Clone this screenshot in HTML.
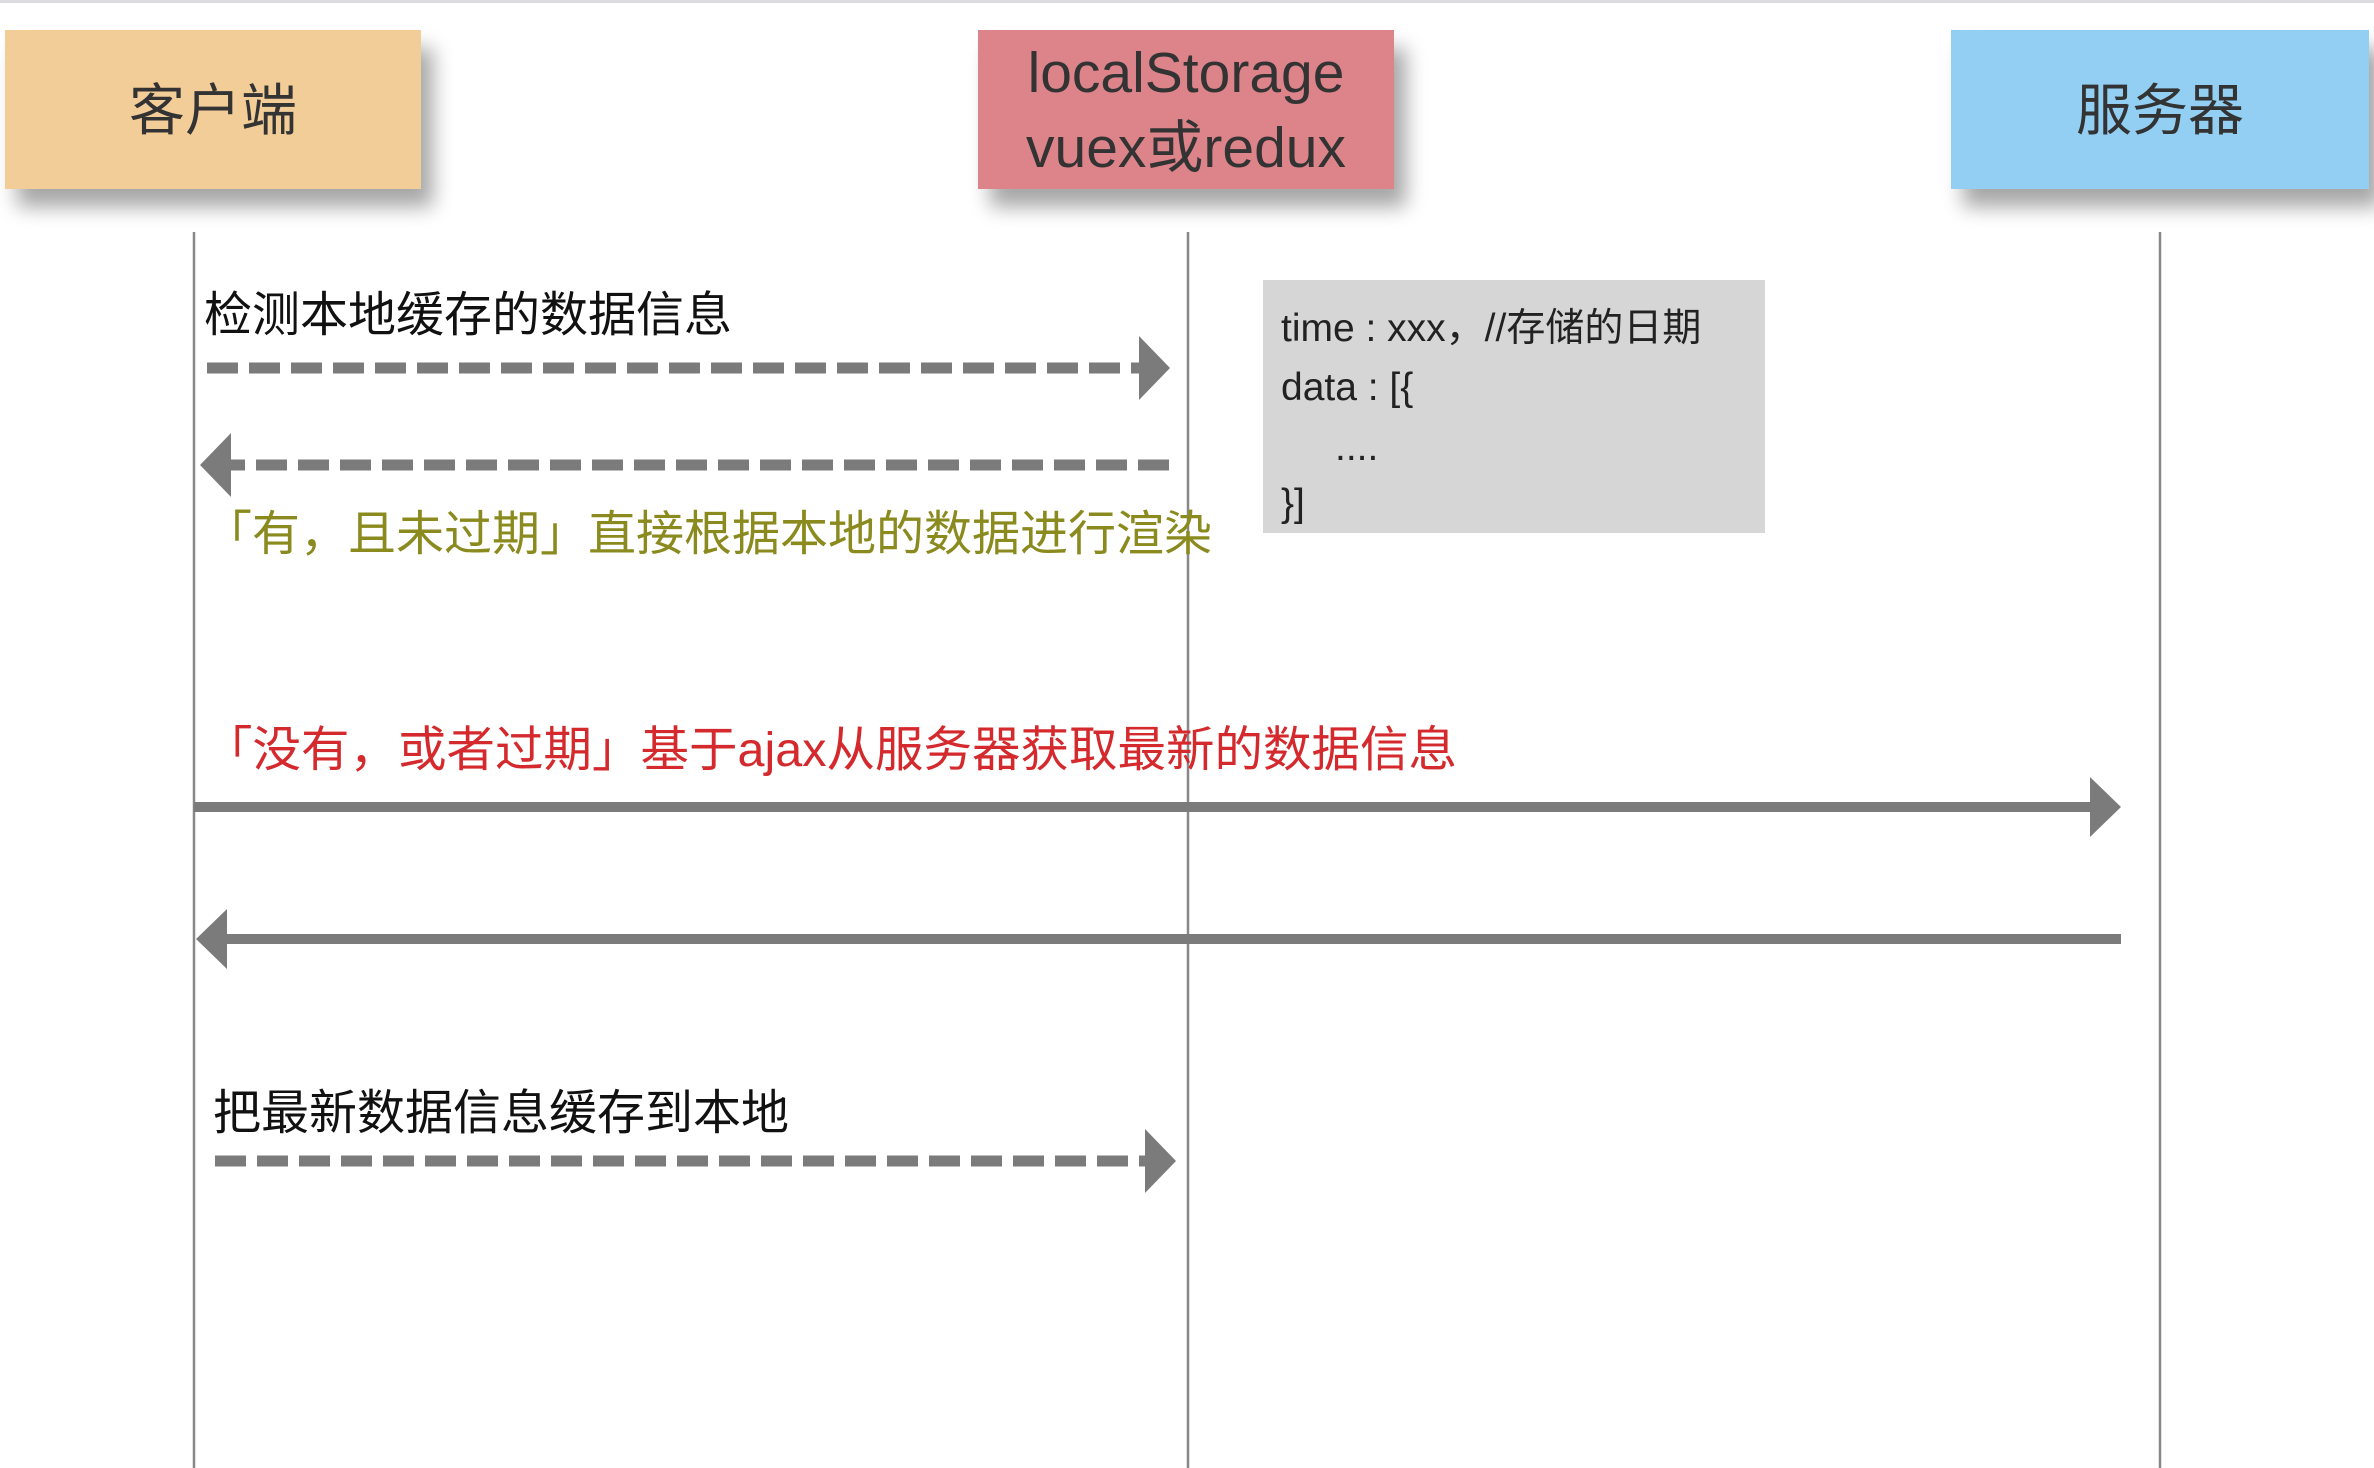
<!DOCTYPE html>
<html><head><meta charset="utf-8"><style>
html,body{margin:0;padding:0;background:#fff;}
svg{display:block;}
text{font-family:"Liberation Sans","Noto Sans CJK SC",sans-serif;}
</style></head><body>
<svg width="2374" height="1468" viewBox="0 0 2374 1468" xmlns="http://www.w3.org/2000/svg">
<defs>
<filter id="sh" x="-20%" y="-20%" width="150%" height="170%">
<feGaussianBlur in="SourceAlpha" stdDeviation="10"/>
<feOffset dx="12" dy="18"/>
<feComponentTransfer><feFuncA type="linear" slope="0.35"/></feComponentTransfer>
<feMerge><feMergeNode/><feMergeNode in="SourceGraphic"/></feMerge>
</filter>
</defs>
<rect x="0" y="0" width="2374" height="3" fill="#dcdce0"/>
<rect x="5" y="30" width="416" height="159" fill="#f3cd98" filter="url(#sh)"/>
<rect x="978" y="30" width="416" height="159" fill="#dd848b" filter="url(#sh)"/>
<rect x="1951" y="30" width="418" height="159" fill="#92cff3" filter="url(#sh)"/>
<text x="213" y="130" font-size="56" text-anchor="middle" fill="#333">客户端</text>
<text x="1186" y="92" font-size="57" text-anchor="middle" fill="#333">localStorage</text>
<text x="1186" y="167" font-size="57" text-anchor="middle" fill="#333">vuex或redux</text>
<text x="2160" y="130" font-size="56" text-anchor="middle" fill="#333">服务器</text>
<g stroke="#888" stroke-width="2.5">
<line x1="194" y1="232" x2="194" y2="1468"/>
<line x1="1188" y1="232" x2="1188" y2="1468"/>
<line x1="2160" y1="232" x2="2160" y2="1468"/>
</g>
<rect x="1263" y="280" width="502" height="253" fill="#d6d6d6"/>
<g font-size="39" fill="#222">
<text x="1281" y="341">time : xxx，//存储的日期</text>
<text x="1281" y="400">data : [{</text>
<text x="1335" y="460">....</text>
<text x="1281" y="516">}]</text>
</g>
<text x="204" y="331" font-size="48" fill="#111">检测本地缓存的数据信息</text>
<text x="204" y="550" font-size="48" fill="#8a8a1e">「有，且未过期」直接根据本地的数据进行渲染</text>
<text x="204" y="766" font-size="48.5" fill="#d42a2e">「没有，或者过期」基于ajax从服务器获取最新的数据信息</text>
<text x="213" y="1129" font-size="48" fill="#111">把最新数据信息缓存到本地</text>
<g stroke="#7b7b7b" stroke-width="11" stroke-dasharray="31 11" fill="none">
<line x1="207" y1="368" x2="1142" y2="368"/>
<line x1="1169" y1="465" x2="228" y2="465"/>
<line x1="215" y1="1161" x2="1146" y2="1161"/>
</g>
<g stroke="#7b7b7b" stroke-width="10">
<line x1="194" y1="807" x2="2092" y2="807"/>
<line x1="2121" y1="939" x2="225" y2="939"/>
</g>
<g fill="#7b7b7b">
<polygon points="1139,336 1170,368 1139,400"/>
<polygon points="231,433 200,465 231,497"/>
<polygon points="1145,1129 1176,1161 1145,1193"/>
<polygon points="2090,777 2121,807 2090,837"/>
<polygon points="227,909 196,939 227,969"/>
</g>
</svg>
</body></html>
